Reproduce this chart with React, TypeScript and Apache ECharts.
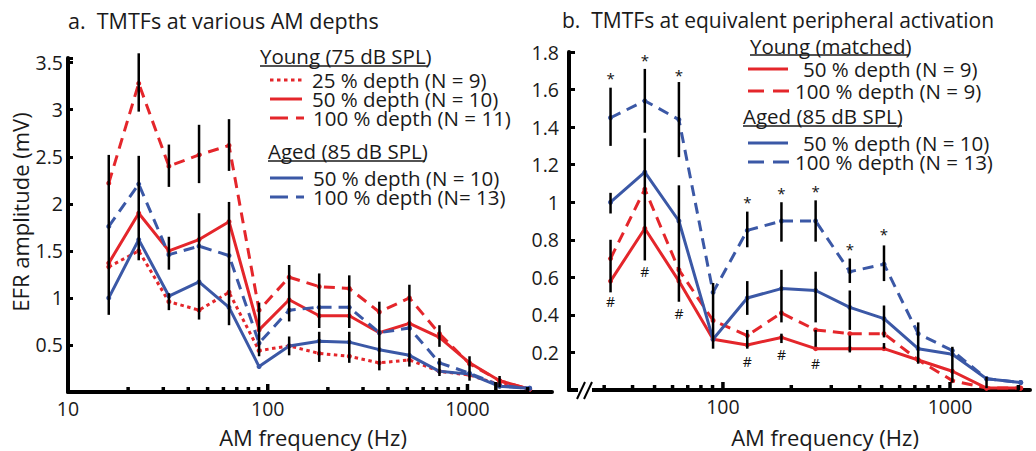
import React, { useEffect, useRef } from "react";
import * as echarts from "echarts";

const RED = "#e4262b";
const BLUE = "#3b58a6";
const FONT = '"Open Sans", sans-serif';

// Panel a
const freqA = [16, 22.6, 32, 45.3, 64, 90.5, 128, 181, 256, 362, 512, 724, 1024, 1448, 2048];
const young25A = [1.33, 1.5, 0.96, 0.87, 1.06, 0.44, 0.49, 0.41, 0.38, 0.31, 0.34, 0.22, 0.18, 0.08, 0.03];
const young50A = [1.37, 1.9, 1.5, 1.62, 1.81, 0.66, 0.98, 0.81, 0.81, 0.63, 0.73, 0.58, 0.31, 0.12, 0.03];
const young100A = [2.22, 3.28, 2.4, 2.52, 2.62, 0.87, 1.22, 1.12, 1.1, 0.85, 1.0, 0.62, 0.3, 0.12, 0.03];
const aged50A = [1.0, 1.62, 1.02, 1.17, 0.9, 0.27, 0.49, 0.54, 0.53, 0.45, 0.39, 0.22, 0.19, 0.06, 0.04];
const aged100A = [1.76, 2.21, 1.46, 1.55, 1.45, 0.52, 0.87, 0.9, 0.9, 0.63, 0.68, 0.31, 0.2, 0.07, 0.04];

const errFreqA = [16, 22.6, 22.6, 32, 32, 32, 45.3, 45.3, 64, 64, 90.5, 128, 128, 181, 181, 256, 256, 362, 512, 724, 724, 1024, 1448];
const errLoA = [0.82, 2.98, 1.4, 2.18, 1.3, 0.87, 2.22, 0.77, 2.35, 0.71, 0.38, 0.75, 0.39, 0.68, 0.32, 0.68, 0.31, 0.23, 0.27, 0.48, 0.17, 0.12, 0.05];
const errHiA = [2.52, 3.6, 2.51, 2.63, 1.65, 1.05, 2.84, 1.9, 2.9, 2.02, 0.95, 1.35, 0.59, 1.26, 0.64, 1.24, 0.64, 0.96, 1.14, 0.71, 0.36, 0.38, 0.17];

// Panel b
const freqB = [32, 45.3, 64, 90.5, 128, 181, 256, 362, 512, 724, 1024, 1448, 2048];
const young50B = [0.58, 0.86, 0.58, 0.27, 0.24, 0.28, 0.22, 0.22, 0.22, 0.16, 0.1, 0.01, 0.01];
const young100B = [0.7, 1.07, 0.64, 0.37, 0.29, 0.41, 0.32, 0.3, 0.3, 0.16, 0.05, 0.01, 0.01];
const aged50B = [1.0, 1.16, 0.9, 0.27, 0.49, 0.54, 0.53, 0.44, 0.38, 0.22, 0.19, 0.06, 0.04];
const aged100B = [1.45, 1.54, 1.44, 0.52, 0.85, 0.9, 0.9, 0.63, 0.67, 0.3, 0.21, 0.06, 0.04];

const errFreqB = [32, 32, 32, 45.3, 45.3, 64, 64, 90.5, 128, 128, 128, 181, 181, 181, 256, 256, 256, 362, 362, 362, 512, 512, 512, 724, 1024, 1448];
const errLoB = [1.3, 0.94, 0.52, 1.37, 0.69, 1.24, 0.47, 0.22, 0.76, 0.4, 0.22, 0.79, 0.36, 0.25, 0.79, 0.36, 0.23, 0.57, 0.32, 0.2, 0.58, 0.28, 0.22, 0.14, 0.04, 0.01];
const errHiB = [1.61, 1.05, 0.8, 1.71, 1.34, 1.64, 1.09, 0.57, 0.95, 0.58, 0.32, 1.0, 0.64, 0.3, 1.01, 0.63, 0.32, 0.7, 0.53, 0.29, 0.77, 0.45, 0.25, 0.36, 0.23, 0.07];

const starFreqB = [32, 45.3, 64, 128, 181, 256, 362, 512];
const starYB = [1.66, 1.76, 1.68, 1.0, 1.05, 1.06, 0.75, 0.83];
const hashFreqB = [32, 45.3, 64, 128, 181, 256];
const hashYB = [0.47, 0.63, 0.41, 0.15, 0.19, 0.14];

const majorTicks = [10, 100, 1000];
const minorTicksA = [20, 30, 40, 50, 60, 70, 80, 90, 200, 300, 400, 500, 600, 700, 800, 900, 2000];
const minorTicksB = [30, 40, 50, 60, 70, 80, 90, 200, 300, 400, 500, 600, 700, 800, 900, 2000];

const zip = (xs: number[], ys: number[]) => xs.map((x, i) => [x, ys[i]]);

function lineSeries(idx: number, xs: number[], ys: number[], color: string, dash: any, name: string) {
  return {
    type: "line",
    name,
    xAxisIndex: idx,
    yAxisIndex: idx,
    data: zip(xs, ys),
    symbol: "circle",
    symbolSize: 5,
    itemStyle: { color },
    lineStyle: { color, width: 3, type: dash, cap: "butt" },
    z: 3,
  };
}

function errSeries(idx: number, xs: number[], lo: number[], hi: number[]) {
  return {
    type: "custom",
    xAxisIndex: idx,
    yAxisIndex: idx,
    clip: false,
    z: 4,
    data: xs.map((x, i) => [x, lo[i], hi[i]]),
    encode: { x: 0, y: [1, 2] },
    renderItem: (params: any, api: any) => {
      const a = api.coord([api.value(0), api.value(1)]);
      const b = api.coord([api.value(0), api.value(2)]);
      return {
        type: "line",
        shape: { x1: a[0], y1: a[1], x2: b[0], y2: b[1] },
        style: { stroke: "#000", lineWidth: 2.5 },
      };
    },
  };
}

function tickSeries(idx: number, minors: number[]) {
  const all = majorTicks.concat(minors);
  return {
    type: "custom",
    xAxisIndex: idx,
    yAxisIndex: idx,
    clip: false,
    z: 5,
    silent: true,
    data: all.map((v) => [v, 0]),
    encode: { x: 0, y: 1 },
    renderItem: (params: any, api: any) => {
      const v = api.value(0);
      const p = api.coord([v, 0]);
      const major = majorTicks.indexOf(v) >= 0;
      const len = major ? 8 : 5;
      return {
        type: "line",
        shape: { x1: p[0], y1: p[1], x2: p[0], y2: p[1] - len },
        style: { stroke: "#000", lineWidth: 3.5 },
      };
    },
  };
}

function textSeries(idx: number, xs: number[], ys: number[], ch: string, size: number) {
  return {
    type: "custom",
    xAxisIndex: idx,
    yAxisIndex: idx,
    clip: false,
    z: 6,
    data: zip(xs, ys),
    encode: { x: 0, y: 1 },
    renderItem: (params: any, api: any) => {
      const p = api.coord([api.value(0), api.value(1)]);
      return {
        type: "text",
        x: p[0],
        y: p[1],
        style: { text: ch, font: `${size}px ${FONT}`, fill: "#111", align: "center", verticalAlign: "middle" },
      };
    },
  };
}

const logLabel = (v: number) => {
  const l = Math.log10(v);
  return Math.abs(l - Math.round(l)) < 1e-6 ? String(Math.round(v)) : "";
};

function txt(text: string, x: number, y: number, size = 19, align = "left", rotation = 0, lh = 0) {
  const style: any = { text, font: `${size}px ${FONT}`, fill: "#1a1a1a", align, verticalAlign: "middle" };
  if (lh) style.lineHeight = lh;
  return { type: "text", x, y, rotation, style, z: 10 };
}
function seg(x1: number, y1: number, x2: number, y2: number, color: string, dash: any = null, w = 3) {
  return {
    type: "line",
    shape: { x1, y1, x2, y2 },
    style: { stroke: color, lineWidth: w, lineDash: dash },
    z: 10,
  };
}

export default function App() {
  const ref = useRef<HTMLDivElement>(null);
  useEffect(() => {
    const chart = echarts.init(ref.current!, null, { renderer: "svg" });
    const axisLineStyle = { color: "#000", width: 4 };
    const yLabel = (v: number) => {
      if (v === 0) return "";
      return String(parseFloat(v.toFixed(2)));
    };
    const LS = 20.5; // legend font size
    const LH = 18;
    const option: any = {
      animation: false,
      textStyle: { fontFamily: FONT },
      grid: [
        { left: 68, top: 58, width: 484, height: 334 },
        { left: 569, top: 52, width: 461, height: 338 },
      ],
      xAxis: [
        {
          type: "log",
          gridIndex: 0,
          logBase: 10,
          min: 10,
          max: 2650,
          axisLine: { lineStyle: axisLineStyle },
          axisTick: { show: false },
          splitLine: { show: false },
          axisLabel: { formatter: logLabel, color: "#1a1a1a", fontSize: 19.5, margin: 6, fontFamily: FONT },
        },
        {
          type: "log",
          gridIndex: 1,
          logBase: 10,
          min: 21,
          max: 2250,
          axisLine: { lineStyle: axisLineStyle },
          axisTick: { show: false },
          splitLine: { show: false },
          axisLabel: { formatter: logLabel, color: "#1a1a1a", fontSize: 19.5, margin: 6, fontFamily: FONT },
        },
      ],
      yAxis: [
        {
          type: "value",
          gridIndex: 0,
          min: 0,
          max: 3.55,
          interval: 0.5,
          axisLine: { show: true, lineStyle: axisLineStyle },
          axisTick: { show: true, inside: true, length: 5, lineStyle: { width: 3, color: "#000" } },
          splitLine: { show: false },
          axisLabel: {
            color: "#1a1a1a",
            fontSize: 19.5,
            margin: 5,
            fontFamily: FONT,
            formatter: (v: number) => (Math.abs(v * 2 - Math.round(v * 2)) > 1e-6 ? "" : yLabel(v)),
          },
        },
        {
          type: "value",
          gridIndex: 1,
          min: 0,
          max: 1.8,
          interval: 0.2,
          axisLine: { show: true, lineStyle: axisLineStyle },
          axisTick: { show: true, inside: true, length: 6, lineStyle: { width: 3, color: "#000" } },
          splitLine: { show: false },
          axisLabel: { color: "#1a1a1a", fontSize: 19.5, margin: 10, fontFamily: FONT, formatter: yLabel },
        },
      ],
      series: [
        lineSeries(0, freqA, young25A, RED, [3.5, 3.5], "Young 25%"),
        lineSeries(0, freqA, young50A, RED, "solid", "Young 50%"),
        lineSeries(0, freqA, young100A, RED, [11, 7], "Young 100%"),
        lineSeries(0, freqA, aged50A, BLUE, "solid", "Aged 50%"),
        lineSeries(0, freqA, aged100A, BLUE, [11, 7], "Aged 100%"),
        errSeries(0, errFreqA, errLoA, errHiA),
        tickSeries(0, minorTicksA),
        lineSeries(1, freqB, young50B, RED, "solid", "Young matched 50%"),
        lineSeries(1, freqB, young100B, RED, [11, 7], "Young matched 100%"),
        lineSeries(1, freqB, aged50B, BLUE, "solid", "Aged 50% b"),
        lineSeries(1, freqB, aged100B, BLUE, [11, 7], "Aged 100% b"),
        errSeries(1, errFreqB, errLoB, errHiB),
        tickSeries(1, minorTicksB),
        textSeries(1, starFreqB, starYB, "*", 15),
        textSeries(1, hashFreqB, hashYB, "#", 14),
      ],
      graphic: [
        txt("a.  TMTFs at various AM depths", 68, 20, 21.5),
        txt("b.  TMTFs at equivalent peripheral activation", 562, 20, 21),
        txt("EFR amplitude (mV)", 20, 212, 22, "center", Math.PI / 2),
        txt("AM frequency (Hz)", 313, 437, 22, "center"),
        txt("AM frequency (Hz)", 825, 437, 22, "center"),
        // axis break
        { type: "rect", shape: { x: 578, y: 386, width: 14, height: 8 }, style: { fill: "#fff" }, z: 9 },
        seg(577, 399, 585, 382, "#000", null, 2),
        seg(584, 399, 592, 382, "#000", null, 2),
        // legend a
        txt("Young (75 dB SPL)", 260, 56, LS, "left", 0, LH),
        seg(260, 66, 428, 66, "#1a1a1a", null, 1.5),
        seg(270, 80, 302, 80, RED, [3.5, 3.5]),
        txt("25 % depth (N = 9)", 312, 80, LS, "left", 0, LH),
        seg(270, 99, 302, 99, RED),
        txt("50 % depth (N = 10)", 312, 99, LS, "left", 0, LH),
        seg(270, 118, 304, 118, RED, [18, 8]),
        txt("100 % depth (N = 11)", 313, 118, LS, "left", 0, LH),
        txt("Aged (85 dB SPL)", 268, 151, LS, "left", 0, LH),
        seg(268, 161, 425, 161, "#1a1a1a", null, 1.5),
        seg(270, 178, 303, 178, BLUE),
        txt("50 % depth (N = 10)", 313, 178, LS, "left", 0, LH),
        seg(270, 197, 304, 197, BLUE, [18, 8]),
        txt("100 % depth (N= 13)", 313, 197, LS, "left", 0, LH),
        // legend b
        txt("Young (matched)", 750, 46, LS, "left", 0, LH),
        seg(750, 55, 909, 55, "#1a1a1a", null, 1.5),
        seg(748, 69, 788, 69, RED),
        txt("50 % depth (N = 9)", 803, 69, LS, "left", 0, LH),
        seg(748, 91, 796, 91, RED, [16, 9]),
        txt("100 % depth (N = 9)", 795, 91, LS, "left", 0, LH),
        txt("Aged (85 dB SPL)", 743, 116, LS, "left", 0, LH),
        seg(743, 126, 902, 126, "#1a1a1a", null, 1.5),
        seg(748, 143, 788, 143, BLUE),
        txt("50 % depth (N = 10)", 803, 143, LS, "left", 0, LH),
        seg(748, 162, 790, 162, BLUE, [16, 9]),
        txt("100 % depth (N = 13)", 795, 162, LS, "left", 0, LH),
      ],
    };
    chart.setOption(option);
    return () => chart.dispose();
  }, []);
  return <div ref={ref} style={{ width: 1036, height: 451, position: "absolute", left: 0, top: 0 }} />;
}
